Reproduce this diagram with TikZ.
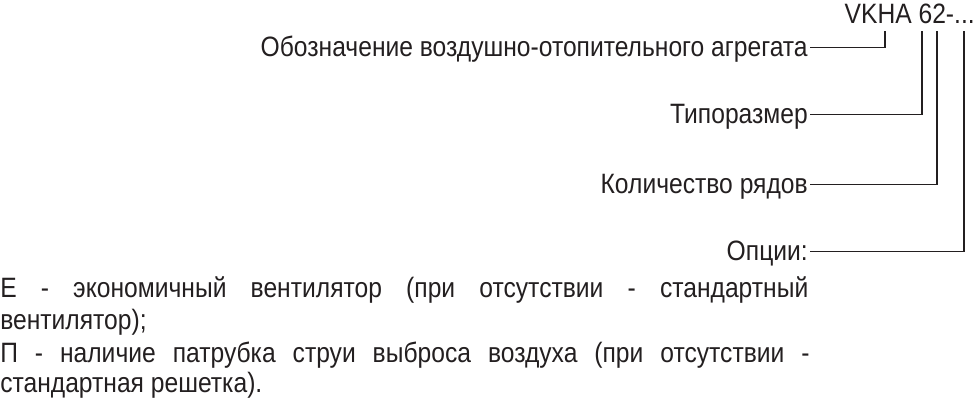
\documentclass[tikz,border=0pt]{standalone}
\usepackage{fontspec}
\setmainfont{Liberation Sans}[FakeStretch=0.88]
\definecolor{ink}{HTML}{231F20}
\tikzset{
  lbl/.style={inner sep=0pt, font=\fontsize{21}{25}\selectfont, text=ink},
  conn/.style={draw=ink, line width=1.4pt}
}
\begin{document}
\begin{tikzpicture}[x=0.75pt,y=-0.75pt]
\useasboundingbox (0,0) rectangle (976,405);
\node[lbl, anchor=base east] (code) at (975,23) {VKHA 62-...};
\node[lbl, anchor=base east] (t1) at (808,56) {Обозначение воздушно-отопительного агрегата};
\node[lbl, anchor=base east] (t2) at (808,123) {Типоразмер};
\node[lbl, anchor=base east] (t3) at (808,193) {Количество рядов};
\node[lbl, anchor=base east] (t4) at (808,260) {Опции:};
\coordinate (v1) at (885,31);
\coordinate (v2) at (922,31);
\coordinate (v3) at (937,31);
\coordinate (v4) at (964,31);
\draw[conn] ([shift={(2,-8.5)}]t1.base east) -| (v1);
\draw[conn] ([shift={(2,-8.5)}]t2.base east) -| (v2);
\draw[conn] ([shift={(2,-8.5)}]t3.base east) -| (v3);
\draw[conn] ([shift={(2,-8.5)}]t4.base east) -| (v4);
\node[lbl, anchor=base west] (p1) at (0,297) {\makebox[606pt][s]{Е - экономичный вентилятор (при отсутствии - стандартный}};
\node[lbl, anchor=base west] (p2) at (0,329) {вентилятор);};
\node[lbl, anchor=base west] (p3) at (0,362) {\makebox[607pt][s]{П - наличие патрубка струи выброса воздуха (при отсутствии -}};
\node[lbl, anchor=base west] (p4) at (0,392) {стандартная решетка).};
\end{tikzpicture}
\end{document}
